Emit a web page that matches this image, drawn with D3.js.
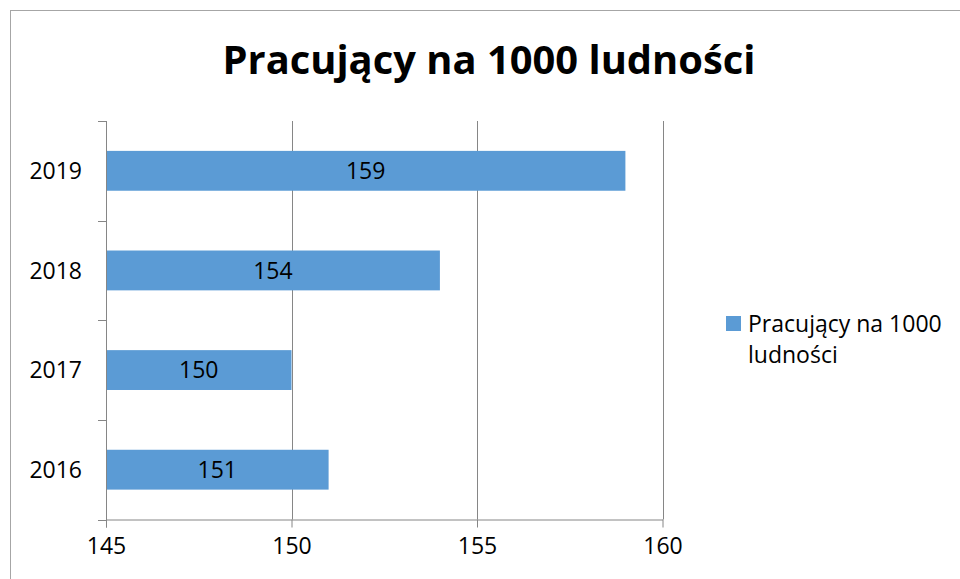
<!DOCTYPE html>
<html>
<head>
<meta charset="utf-8">
<script src="https://cdn.jsdelivr.net/npm/d3@7"></script>
<style>
  html, body { margin: 0; padding: 0; background: #fff; }
  svg { display: block; }
  text { font-family: "Open Sans", "DejaVu Sans", sans-serif; fill: #000; }
</style>
</head>
<body>
<svg id="chart" width="960" height="579"></svg>
<script>
// Employed persons per 1000 inhabitants, by year
const years = ["2016", "2017", "2018", "2019"];
const values = [151, 150, 154, 159];
const xTicks = [145, 150, 155, 160];
const title = "Pracujący na 1000 ludności";
const seriesName = ["Pracujący na 1000", "ludności"];

const W = 960, H = 579;
const svg = d3.select("#chart");
const barColor = "#5b9bd5";
const gridColor = "#868686";

// Outer frame
svg.append("rect")
  .attr("x", 10.5).attr("y", 10.5)
  .attr("width", W).attr("height", H)
  .attr("fill", "none").attr("stroke", "#a6a6a6").attr("stroke-width", 1);

// Title, scaled to the intended width
const titleText = svg.append("text")
  .attr("x", 489).attr("y", 74)
  .attr("text-anchor", "middle")
  .style("font-weight", "bold")
  .style("font-size", "40px")
  .text(title);
const tw = titleText.node().getComputedTextLength();
titleText.style("font-size", (40 * 533 / tw).toFixed(2) + "px");

// Plot area
const plot = { left: 106, right: 662.5, top: 121, bottom: 519.5 };

const x = d3.scaleLinear()
  .domain([xTicks[0], xTicks[xTicks.length - 1]])
  .range([plot.left, plot.right]);

// Years bottom-to-top: 2016 at the bottom
const y = d3.scaleBand()
  .domain(years.slice().reverse())
  .range([plot.top, plot.bottom])
  .paddingInner(0.6)
  .paddingOuter(0.3);

// Vertical gridlines
svg.append("g")
  .selectAll("line")
  .data(xTicks.slice(1))
  .join("line")
  .attr("x1", d => Math.round(x(d)) + 0.5)
  .attr("x2", d => Math.round(x(d)) + 0.5)
  .attr("y1", plot.top)
  .attr("y2", plot.bottom)
  .attr("stroke", gridColor)
  .attr("stroke-width", 1);

// Bars
svg.append("g")
  .selectAll("rect")
  .data(years.map((yr, i) => ({ yr, v: values[i] })))
  .join("rect")
  .attr("x", x(xTicks[0]))
  .attr("y", d => y(d.yr))
  .attr("width", d => x(d.v) - x(xTicks[0]))
  .attr("height", y.bandwidth())
  .attr("fill", barColor);

// Value labels centred in the bars
svg.append("g")
  .selectAll("text")
  .data(years.map((yr, i) => ({ yr, v: values[i] })))
  .join("text")
  .attr("x", d => (x(xTicks[0]) + x(d.v)) / 2)
  .attr("y", d => y(d.yr) + y.bandwidth() / 2)
  .attr("dy", "0.36em")
  .attr("text-anchor", "middle")
  .style("font-size", "23px")
  .text(d => d.v);

// X axis
const xAxis = svg.append("g")
  .attr("transform", `translate(0,${plot.bottom})`)
  .call(d3.axisBottom(x).tickValues(xTicks).tickSize(8).tickPadding(10).tickSizeOuter(0));
xAxis.select(".domain").attr("stroke", gridColor);
xAxis.selectAll(".tick line").attr("stroke", gridColor);
xAxis.selectAll(".tick text")
  .style("font-size", "23px")
  .style("font-family", "'Open Sans', sans-serif")
  .attr("fill", "#000");

// Y axis: ticks at the boundaries between categories
const yAxisG = svg.append("g");
yAxisG.append("line")
  .attr("x1", plot.left + 0.5).attr("x2", plot.left + 0.5)
  .attr("y1", plot.top).attr("y2", plot.bottom + 8)
  .attr("stroke", gridColor);
const step = y.step();
const boundaries = d3.range(years.length + 1).map(i => plot.top + i * (plot.bottom - plot.top) / years.length);
yAxisG.selectAll("line.tk")
  .data(boundaries)
  .join("line")
  .attr("class", "tk")
  .attr("x1", plot.left - 8).attr("x2", plot.left)
  .attr("y1", d => Math.round(d) + 0.5)
  .attr("y2", d => Math.round(d) + 0.5)
  .attr("stroke", gridColor);
yAxisG.selectAll("text")
  .data(years)
  .join("text")
  .attr("x", 82)
  .attr("y", d => y(d) + y.bandwidth() / 2)
  .attr("dy", "0.36em")
  .attr("text-anchor", "end")
  .style("font-size", "23px")
  .text(d => d);

// Legend
const legend = svg.append("g");
legend.append("rect")
  .attr("x", 726).attr("y", 316)
  .attr("width", 15).attr("height", 15)
  .attr("fill", barColor);
legend.selectAll("text")
  .data(seriesName)
  .join("text")
  .attr("x", 748)
  .attr("y", (d, i) => 332 + i * 31)
  .style("font-size", "23px")
  .text(d => d);
</script>
</body>
</html>
